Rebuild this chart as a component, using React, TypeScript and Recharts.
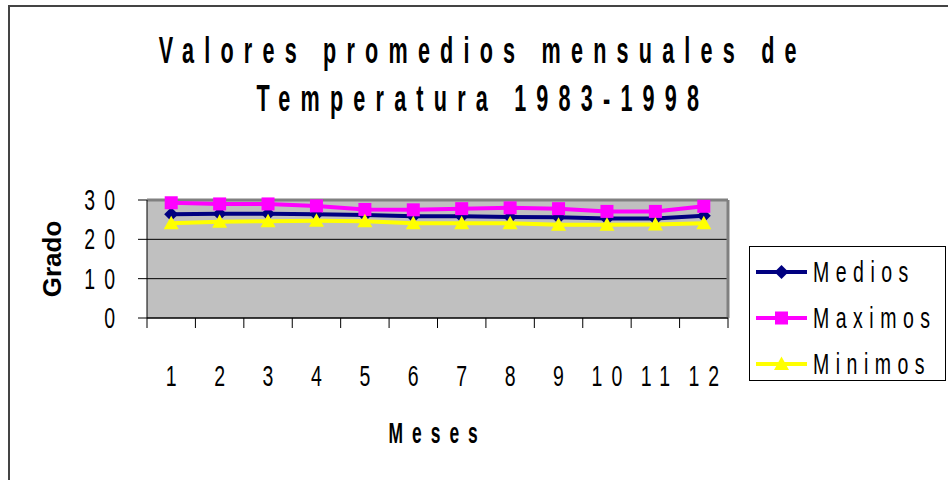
import { LineChart, Line, XAxis, YAxis, CartesianGrid, Legend, ReferenceLine } from "recharts";

// Valores promedios mensuales 1983-1998
const meses = [1, 2, 3, 4, 5, 6, 7, 8, 9, 10, 11, 12];
const medios = [26.4, 26.5, 26.5, 26.4, 26.2, 25.9, 25.9, 25.7, 25.6, 25.3, 25.3, 26.0];
const maximos = [29.3, 29.0, 29.0, 28.5, 27.6, 27.5, 27.8, 28.0, 27.8, 27.1, 27.1, 28.4];
const minimos = [24.1, 24.5, 24.6, 24.7, 24.6, 24.1, 24.1, 24.1, 23.7, 23.7, 23.8, 24.1];
const yTicks = [0, 10, 20, 30];
const titulo = ["Valores promedios mensuales de", "Temperatura 1983-1998"];

const series = [
	{ key: "medios", name: "Medios", color: "#000080", shape: "diamond" },
	{ key: "maximos", name: "Maximos", color: "#FF00FF", shape: "square" },
	{ key: "minimos", name: "Minimos", color: "#FFFF00", shape: "triangle" },
];

const data = meses.map((m, i) => ({ mes: m, medios: medios[i], maximos: maximos[i], minimos: minimos[i] }));
// ticks at category edges (lines) and centres (labels)
const xTicks = [...meses.flatMap((m) => [m - 0.5, m]), meses[meses.length - 1] + 0.5];

const FONT = "'Liberation Sans', Arial, sans-serif";
const SX = 0.65; // squeezed, spaced-out lettering as in the old spreadsheet chart
const TICK_LS = 14;

const Marker = ({ cx, cy, shape, color }: { cx: number; cy: number; shape: string; color: string }) => {
	if (cx == null || cy == null) return null;
	if (shape === "diamond") {
		const r = 7;
		return <polygon points={`${cx},${cy - r} ${cx + r},${cy} ${cx},${cy + r} ${cx - r},${cy}`} fill={color} />;
	}
	if (shape === "square") {
		const r = 6.5;
		return <rect x={cx - r} y={cy - r} width={2 * r} height={2 * r} fill={color} />;
	}
	const r = 7.5;
	return <polygon points={`${cx},${cy - r} ${cx + r},${cy + r * 0.8} ${cx - r},${cy + r * 0.8}`} fill={color} />;
};

const XTick = (props: any) => {
	const { x, y, payload } = props;
	const v = payload.value;
	if (!Number.isInteger(v)) return <line x1={x} y1={y} x2={x} y2={y + 10} stroke="#000" />;
	return (
		<text
			transform={`translate(${x + (TICK_LS * SX) / 2},${y + 68}) scale(${SX},1)`}
			textAnchor="middle"
			fontFamily={FONT}
			fontSize={30}
			letterSpacing={TICK_LS}
			fill="#000"
		>
			{v}
		</text>
	);
};

const YTick = (props: any) => {
	const { x, y, payload } = props;
	return (
		<text
			transform={`translate(${x + TICK_LS * SX},${y + 10}) scale(${SX},1)`}
			textAnchor="end"
			fontFamily={FONT}
			fontSize={30}
			letterSpacing={TICK_LS}
			fill="#000"
		>
			{payload.value}
		</text>
	);
};

const LegendBox = () => (
	<div
		style={{
			width: 197,
			height: 135,
			border: "1px solid #000",
			background: "#fff",
			boxSizing: "border-box",
			fontFamily: FONT,
			paddingTop: 2,
		}}
	>
		{series.map((s) => (
			<div key={s.key} style={{ display: "flex", alignItems: "center", height: 46, whiteSpace: "nowrap" }}>
				<svg width={57} height={20} style={{ marginLeft: 6, flexShrink: 0 }}>
					<line x1={0} y1={10} x2={51} y2={10} stroke={s.color} strokeWidth={4} />
					<Marker cx={25.5} cy={10} shape={s.shape} color={s.color} />
				</svg>
				<span
					style={{
						fontSize: 30,
						letterSpacing: 10,
						display: "inline-block",
						flexShrink: 0,
						transform: `scaleX(${SX})`,
						transformOrigin: "left center",
					}}
				>
					{s.name}
				</span>
			</div>
		))}
	</div>
);

export default function App() {
	return (
		<div style={{ position: "absolute", left: 0, top: 0, width: 948, height: 480, background: "#fff", overflow: "hidden" }}>
			<div
				style={{
					position: "absolute",
					left: 8,
					top: 5,
					width: 960,
					height: 500,
					borderLeft: "2px solid #444",
					borderTop: "2px solid #444",
				}}
			/>
			{titulo.map((t, i) => (
				<div
					key={t}
					style={{
						position: "absolute",
						left: -522,
						width: 2000,
						top: 29 + i * 48,
						textAlign: "center",
						fontFamily: FONT,
						fontWeight: "bold",
						fontSize: 36,
						lineHeight: "44px",
						whiteSpace: "nowrap",
					}}
				>
					<span style={{ display: "inline-block", letterSpacing: 17, paddingLeft: 17, transform: `scaleX(${SX - 0.05})` }}>
						{t}
					</span>
				</div>
			))}
			<LineChart
				width={948}
				height={480}
				data={data}
				margin={{ top: 200, right: 220, left: 0, bottom: 0 }}
				style={{ position: "absolute", left: 0, top: 0 }}
			>
				<CartesianGrid vertical={false} fill="#C0C0C0" stroke="#000" horizontalValues={yTicks} />
				<ReferenceLine y={30} stroke="#808080" strokeWidth={3} />
				<ReferenceLine x={12.5} stroke="#808080" strokeWidth={3} />
				<XAxis
					dataKey="mes"
					type="number"
					domain={[0.5, 12.5]}
					ticks={xTicks}
					interval={0}
					tickLine={false}
					tickSize={0}
					tickMargin={0}
					tick={<XTick />}
					axisLine={{ stroke: "#000" }}
					height={162}
					label={{
						content: ({ viewBox }: any) => (
							<text
								transform={`translate(${viewBox.x + viewBox.width / 2 - 4},${viewBox.y + 125}) scale(0.6,1)`}
								textAnchor="middle"
								fontFamily={FONT}
								fontWeight="bold"
								fontSize={29}
								letterSpacing={15}
								dx={7}
							>
								Meses
							</text>
						),
					}}
				/>
				<YAxis
					domain={[0, 30]}
					ticks={yTicks}
					interval={0}
					width={147}
					tickSize={9}
					tickMargin={23}
					tickLine={{ stroke: "#000" }}
					axisLine={{ stroke: "#000" }}
					tick={<YTick />}
					label={{
						content: ({ viewBox }: any) => (
							<text
								transform={`translate(${viewBox.x + 61},${viewBox.y + viewBox.height / 2}) rotate(-90)`}
								textAnchor="middle"
								fontFamily={FONT}
								fontWeight="bold"
								fontSize={26}
							>
								Grado
							</text>
						),
					}}
				/>
				<Legend
					layout="vertical"
					align="center"
					verticalAlign="middle"
					wrapperStyle={{ left: 749, top: 246 }}
					content={<LegendBox />}
				/>
				{series.map((s) => (
					<Line
						key={s.key}
						dataKey={s.key}
						name={s.name}
						stroke={s.color}
						strokeWidth={4}
						isAnimationActive={false}
						dot={(p: any) => <Marker key={p.index} cx={p.cx} cy={p.cy} shape={s.shape} color={s.color} />}
						activeDot={false}
					/>
				))}
			</LineChart>
		</div>
	);
}
